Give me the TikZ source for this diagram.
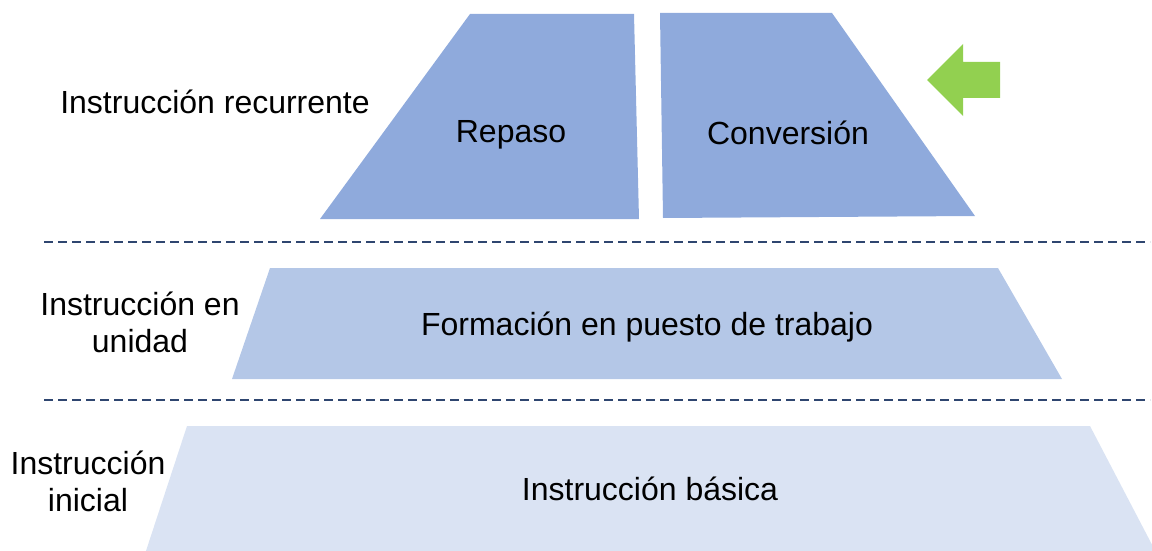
\documentclass[tikz,border=0pt]{standalone}
\usepackage{fontspec}
\setmainfont{Liberation Sans}
\usetikzlibrary{positioning}

\definecolor{darkblue}{HTML}{8FAADC}
\definecolor{midblue}{HTML}{B4C7E7}
\definecolor{paleblue}{HTML}{DAE3F3}
\definecolor{navy}{HTML}{2F4670}
\definecolor{lightgreen}{HTML}{92D050}

\begin{document}
\begin{tikzpicture}
[x=1pt, y=-1pt, text=black,
level/.style = {font=\fontsize{32}{37}\selectfont, align=center},
label/.style = {font=\fontsize{32}{37}\selectfont},
divider/.style = {navy, line width=2pt, dash pattern=on 9pt off 5pt}]
\useasboundingbox (0,0) rectangle (1152,551);

% layers
\fill[darkblue] (470,14) -- (634,14) -- (639,219) -- (320,219) -- cycle;
\fill[darkblue] (660,13) -- (832,13) -- (975,216) -- (663,218) -- cycle;
\fill[midblue] (270,268) -- (998,268) -- (1062,379) -- (232,379) -- cycle;
\fill[paleblue] (187,426) -- (1090,426) -- (1160,560) -- (143,560) -- cycle;

% arrow
\fill[lightgreen] (927,80) -- (963,44) -- (963,62) -- (1000,62)
  -- (1000,98) -- (963,98) -- (963,116) -- cycle;

% dividers
\coordinate (d1a) at (44,242);
\coordinate (d1b) at (1150,242);
\coordinate (d2a) at (44,400);
\coordinate (d2b) at (1150,400);
\draw[divider] (d1a) -- (d1b);
\draw[divider] (d2a) -- (d2b);

\node[label] (repaso) at (511,135) {Repaso};
\node[label] (conversion) at (788,133) {Conversión};
\node[label] (puesto) at (647,327) {Formación en puesto de trabajo};
\node[label] (basica) at (650,489) {Instrucción básica};

\node[level] (recurrente) at (215,102) {Instrucción recurrente};
\node[level] (unidad) at (140,322) {Instrucción en\\unidad};
\node[level] (inicial) at (88,481) {Instrucción\\inicial};
\end{tikzpicture}
\end{document}
